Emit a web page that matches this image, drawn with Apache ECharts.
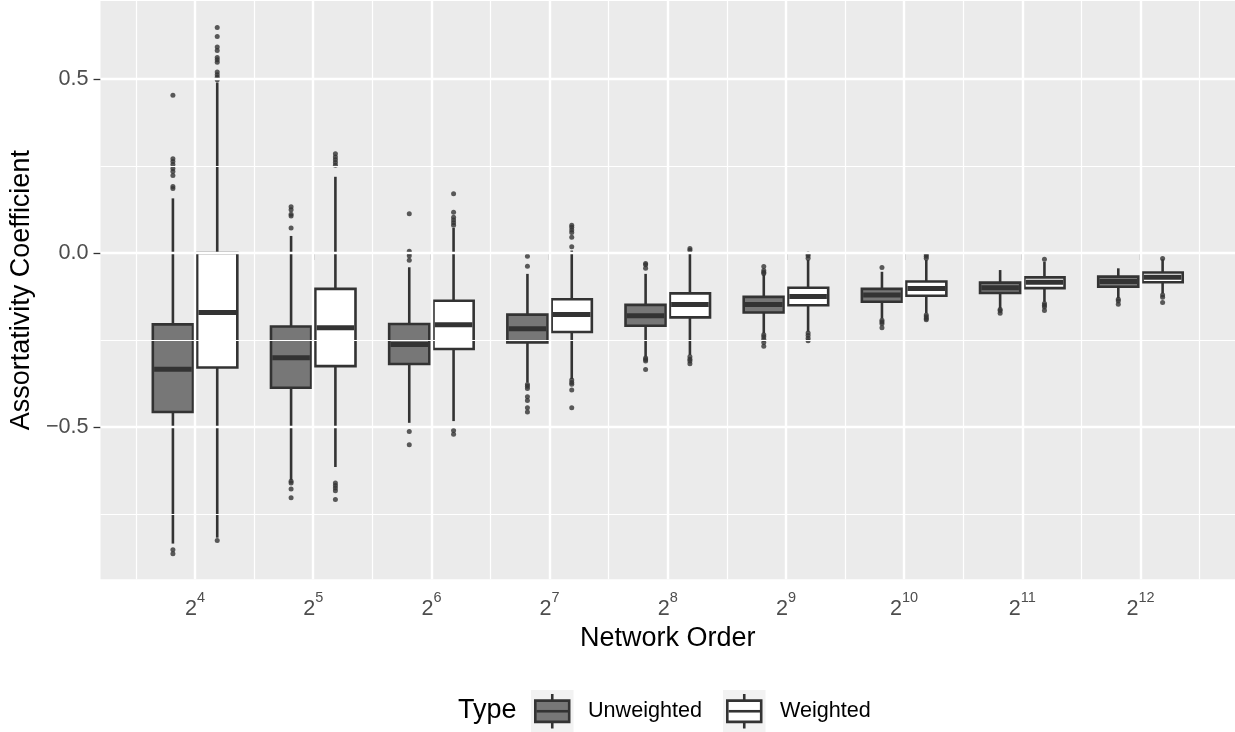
<!DOCTYPE html>
<html>
<head>
<meta charset="utf-8">
<script src="https://cdn.jsdelivr.net/npm/echarts@6/dist/echarts.min.js"></script>
<style>
html,body{margin:0;padding:0;background:#ffffff;}
#chart{width:1235px;height:732px;}
</style>
</head>
<body>
<div id="chart"></div>
<script>
// ---------- data ----------
const orderExponents = [4, 5, 6, 7, 8, 9, 10, 11, 12];   // network order = 2^k
const xMajorTicks = [4, 5, 6, 7, 8, 9, 10, 11, 12];
const xMinorTicks = [3.5, 4.5, 5.5, 6.5, 7.5, 8.5, 9.5, 10.5, 11.5, 12.5];
const yMajorTicks = [-0.5, 0, 0.5];
const yMinorTicks = [-0.75, -0.25, 0.25];

const unweightedLow  = [-0.835, -0.653, -0.488, -0.372, -0.298, -0.231, -0.188, -0.159, -0.130];
const unweightedQ1   = [-0.457, -0.387, -0.319, -0.257, -0.209, -0.171, -0.140, -0.115, -0.097];
const unweightedMed  = [-0.334, -0.301, -0.263, -0.218, -0.180, -0.148, -0.121, -0.100, -0.082];
const unweightedQ3   = [-0.205, -0.211, -0.204, -0.177, -0.149, -0.126, -0.103, -0.085, -0.068];
const unweightedHigh = [ 0.157,  0.049, -0.041, -0.060, -0.060, -0.062, -0.054, -0.049, -0.044];
const unweightedOutliers = [
  [0.453, 0.271, 0.263, 0.254, 0.243, 0.234, 0.223, 0.191, 0.185, -0.853, -0.864],
  [0.133, 0.124, 0.111, 0.106, 0.072, -0.656, -0.661, -0.678, -0.703],
  [0.113, 0.005, -0.001, -0.008, -0.021, -0.513, -0.551],
  [-0.009, -0.038, -0.378, -0.383, -0.389, -0.413, -0.424, -0.445, -0.457],
  [-0.030, -0.034, -0.044, -0.302, -0.306, -0.310, -0.335],
  [-0.039, -0.050, -0.055, -0.059, -0.235, -0.241, -0.248, -0.257, -0.268],
  [-0.042, -0.193, -0.198, -0.203, -0.215],
  [-0.162, -0.166, -0.173],
  [-0.133, -0.138, -0.147]
];

const weightedLow  = [-0.818, -0.615, -0.483, -0.362, -0.293, -0.226, -0.173, -0.140, -0.116];
const weightedQ1   = [-0.329, -0.325, -0.276, -0.227, -0.185, -0.150, -0.123, -0.101, -0.084];
const weightedMed  = [-0.171, -0.215, -0.206, -0.177, -0.148, -0.125, -0.102, -0.084, -0.070];
const weightedQ3   = [ 0.000, -0.103, -0.137, -0.133, -0.116, -0.100, -0.082, -0.070, -0.056];
const weightedHigh = [ 0.490,  0.219,  0.072,  0.007, -0.001, -0.020, -0.020, -0.025, -0.018];
const weightedOutliers = [
  [0.648, 0.622, 0.592, 0.582, 0.562, 0.555, 0.548, 0.520, 0.512, 0.505, 0.498, -0.826],
  [0.285, 0.276, 0.268, 0.260, 0.252, -0.661, -0.668, -0.675, -0.683, -0.708],
  [0.170, 0.117, 0.103, 0.095, 0.087, 0.080, -0.510, -0.521],
  [0.080, 0.074, 0.066, 0.059, 0.045, 0.018, -0.365, -0.372, -0.377, -0.394, -0.445],
  [0.013, 0.008, -0.298, -0.305, -0.310, -0.318],
  [-0.003, -0.008, -0.015, -0.230, -0.237, -0.245, -0.252],
  [-0.004, -0.009, -0.015, -0.178, -0.183, -0.188, -0.192],
  [-0.018, -0.145, -0.150, -0.155, -0.165],
  [-0.016, -0.121, -0.127, -0.142]
];

// ---------- styling constants ----------
const DODGE = 0.1875;      // half distance between paired boxes (axis units)
const HALF_BOX = 0.17;     // half box width (axis units)
const LINE = '#333333';
const FONT = "'Liberation Sans', Arial, Helvetica, sans-serif";
const UNW_FILL = '#777777';
const W_FILL = '#ffffff';

function boxData(low, q1, med, q3, high) {
  return orderExponents.map((k, i) => [k, low[i], q1[i], med[i], q3[i], high[i]]);
}
function outlierData(outs, offset) {
  const res = [];
  outs.forEach((arr, i) => arr.forEach(v => res.push([orderExponents[i] + offset, v])));
  return res;
}
function boxRenderer(offset, fill) {
  return function (params, api) {
    const x = api.value(0) + offset;
    const lo = api.value(1), q1 = api.value(2), md = api.value(3), q3 = api.value(4), hi = api.value(5);
    const tl = api.coord([x - HALF_BOX, q3]);
    const br = api.coord([x + HALF_BOX, q1]);
    const cHi = api.coord([x, hi]), cQ3 = api.coord([x, q3]), cQ1 = api.coord([x, q1]), cLo = api.coord([x, lo]);
    const m1 = api.coord([x - HALF_BOX, md]), m2 = api.coord([x + HALF_BOX, md]);
    return {
      type: 'group',
      children: [
        {type: 'line', shape: {x1: cHi[0], y1: cHi[1], x2: cQ3[0], y2: cQ3[1]}, style: {stroke: LINE, lineWidth: 2.6}},
        {type: 'line', shape: {x1: cQ1[0], y1: cQ1[1], x2: cLo[0], y2: cLo[1]}, style: {stroke: LINE, lineWidth: 2.6}},
        {type: 'rect', shape: {x: tl[0], y: tl[1], width: br[0] - tl[0], height: br[1] - tl[1]},
          style: {fill: fill, stroke: LINE, lineWidth: 2.6}},
        {type: 'line', shape: {x1: m1[0] + 1.3, y1: m1[1], x2: m2[0] - 1.3, y2: m2[1]}, style: {stroke: LINE, lineWidth: 5}}
      ]
    };
  };
}

const gridLines = []
  .concat(yMinorTicks.map(v => ({yAxis: v, lineStyle: {width: 1.2}})))
  .concat(xMinorTicks.map(v => ({xAxis: v, lineStyle: {width: 1.2}})))
  .concat(yMajorTicks.map(v => ({yAxis: v, lineStyle: {width: 2.4}})))
  .concat(xMajorTicks.map(v => ({xAxis: v, lineStyle: {width: 2.4}})));

// legend glyph (drawn with graphic elements, absolute coordinates)
function legendKey(left, fill) {
  const top = 690, size = 42.5;
  const cx = left + size / 2;
  return [
    {type: 'rect', shape: {x: left, y: top, width: size, height: size}, style: {fill: '#F2F2F2'}},
    {type: 'line', shape: {x1: cx, y1: top + 4, x2: cx, y2: top + size - 4}, style: {stroke: LINE, lineWidth: 2.6}},
    {type: 'rect', shape: {x: left + 4.3, y: top + 10.6, width: size - 8.6, height: size - 21.2},
      style: {fill: fill, stroke: LINE, lineWidth: 2.6}},
    {type: 'line', shape: {x1: left + 5.5, y1: top + size / 2, x2: left + size - 5.5, y2: top + size / 2},
      style: {stroke: LINE, lineWidth: 2.6}}
  ];
}

const chart = echarts.init(document.getElementById('chart'), null, {renderer: 'canvas'});
chart.setOption({
  animation: false,
  backgroundColor: '#ffffff',
  grid: {left: 99, right: 0, top: 1, bottom: 152.7, show: true, backgroundColor: '#EBEBEB', borderWidth: 0},
  xAxis: {
    type: 'value', min: 3.2, max: 12.8,
    name: 'Network Order', nameLocation: 'middle', nameGap: 46,
    nameTextStyle: {fontFamily: FONT, fontSize: 27, color: '#000000'},
    axisLine: {show: false},
    splitLine: {show: false},
    axisTick: {show: true, customValues: xMajorTicks, length: 7, lineStyle: {color: LINE, width: 1.3}},
    axisLabel: {
      customValues: xMajorTicks, margin: 11,
      formatter: v => '{b|2}{s|' + v + '}',
      rich: {
        b: {fontFamily: FONT, fontSize: 21.6, color: '#4D4D4D', lineHeight: 30, verticalAlign: 'bottom'},
        s: {fontFamily: FONT, fontSize: 14.5, color: '#4D4D4D', lineHeight: 13, verticalAlign: 'top'}
      }
    }
  },
  yAxis: {
    type: 'value', min: -0.9376, max: 0.7241,
    name: 'Assortativity Coefficient', nameLocation: 'middle', nameGap: 61,
    nameTextStyle: {fontFamily: FONT, fontSize: 27, color: '#000000'},
    axisLine: {show: false},
    splitLine: {show: false},
    axisTick: {show: true, customValues: yMajorTicks, length: 7, lineStyle: {color: LINE, width: 1.3}},
    axisLabel: {
      customValues: yMajorTicks, margin: 12,
      fontFamily: FONT, fontSize: 21.6, color: '#4D4D4D',
      formatter: v => (v < 0 ? '\u2212' : '') + Math.abs(v).toFixed(1)
    }
  },
  graphic: [
    {type: 'text', left: 458, top: 697, style: {text: 'Type', font: '27px ' + FONT, fill: '#000000'}},
    {type: 'group', children: legendKey(531, UNW_FILL).concat(legendKey(723, W_FILL))},
    {type: 'text', left: 588, top: 700, style: {text: 'Unweighted', font: '21.6px ' + FONT, fill: '#000000'}},
    {type: 'text', left: 780, top: 700, style: {text: 'Weighted', font: '21.6px ' + FONT, fill: '#000000'}}
  ],
  series: [
    {
      type: 'line', name: 'grid', data: [], z: 1, silent: true,
      markLine: {silent: true, symbol: ['none', 'none'], label: {show: false}, animation: false,
        lineStyle: {color: '#ffffff', type: 'solid'}, data: gridLines}
    },
    {
      type: 'custom', name: 'Unweighted', z: 3,
      renderItem: boxRenderer(-DODGE, UNW_FILL),
      encode: {x: 0, y: [1, 2, 3, 4, 5]},
      data: boxData(unweightedLow, unweightedQ1, unweightedMed, unweightedQ3, unweightedHigh)
    },
    {
      type: 'custom', name: 'Weighted', z: 3,
      renderItem: boxRenderer(DODGE, W_FILL),
      encode: {x: 0, y: [1, 2, 3, 4, 5]},
      data: boxData(weightedLow, weightedQ1, weightedMed, weightedQ3, weightedHigh)
    },
    {
      type: 'scatter', name: 'Unweighted outliers', z: 4, symbolSize: 5,
      itemStyle: {color: LINE}, data: outlierData(unweightedOutliers, -DODGE)
    },
    {
      type: 'scatter', name: 'Weighted outliers', z: 4, symbolSize: 5,
      itemStyle: {color: LINE}, data: outlierData(weightedOutliers, DODGE)
    }
  ]
});
</script>
</body>
</html>
